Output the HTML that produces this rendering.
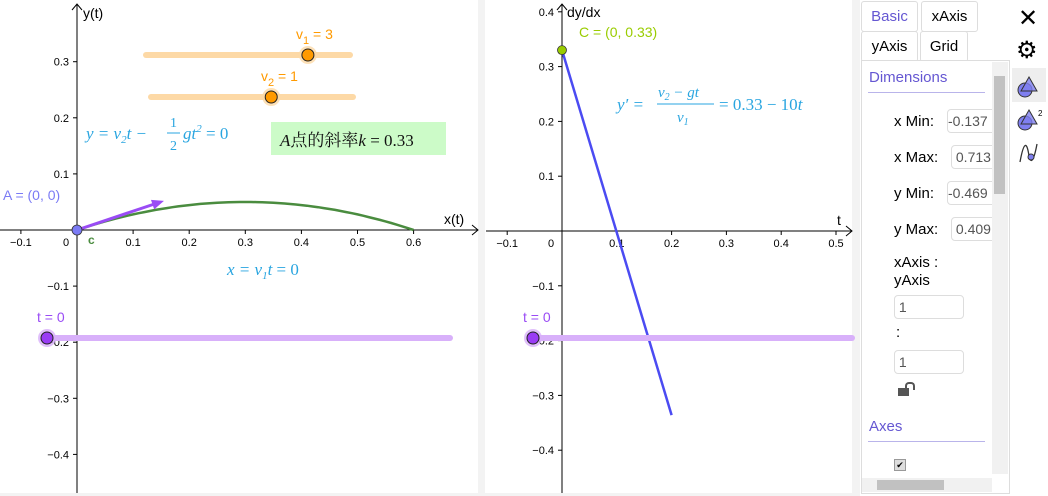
<!DOCTYPE html>
<html><head><meta charset="utf-8">
<style>
body{margin:0;width:1048px;height:496px;overflow:hidden;background:#fff;font-family:"Liberation Sans","Noto Sans CJK SC",sans-serif;}
svg{position:absolute;left:0;top:0}
.side{position:absolute;font-family:"Liberation Sans",sans-serif;}
</style></head><body>
<svg id="chart" width="1048" height="496">
<rect x="0" y="0" width="1048" height="496" fill="#fff"/>
<rect x="478" y="0" width="7" height="496" fill="#f3f3f3"/>
<rect x="852" y="0" width="8" height="496" fill="#f3f3f3"/>
<rect x="0" y="493" width="860" height="3" fill="#f3f3f3"/>
<g id="left"></g><g id="right"></g>
</svg>

<div class="side" style="left:860px;top:0;width:150px;height:496px;">
 <div style="position:absolute;left:1px;top:1px;width:55px;height:29px;border:1px solid #ddd;border-radius:3px;color:#6557d2;font-size:15px;line-height:29px;text-align:center">Basic</div>
 <div style="position:absolute;left:61px;top:1px;width:55px;height:29px;border:1px solid #ddd;border-radius:3px;font-size:15px;line-height:29px;text-align:center">xAxis</div>
 <div style="position:absolute;left:1px;top:31px;width:55px;height:29px;border:1px solid #ddd;border-radius:3px;font-size:15px;line-height:29px;text-align:center">yAxis</div>
 <div style="position:absolute;left:60px;top:31px;width:46px;height:29px;border:1px solid #ddd;border-radius:3px;font-size:15px;line-height:29px;text-align:center">Grid</div>
 <div style="position:absolute;left:1px;top:60px;width:147px;height:432px;border:1px solid #ddd;background:#fff"></div>
 <div style="position:absolute;left:9px;top:69px;color:#6557d2;font-size:15px">Dimensions</div>
 <div style="position:absolute;left:8px;top:92px;width:117px;height:1px;background:#b9b4ea"></div>
 <div style="position:absolute;left:34px;top:113px;font-size:15px">x Min:</div>
 <div style="position:absolute;left:87px;top:109px;width:50px;height:22px;border:1px solid #ddd;border-radius:4px;font-size:14px;color:#555;line-height:22px;overflow:hidden">-0.137</div>
 <div style="position:absolute;left:34px;top:149px;font-size:15px">x Max:</div>
 <div style="position:absolute;left:91px;top:145px;width:46px;height:22px;border:1px solid #ddd;border-radius:4px;font-size:14px;color:#555;line-height:22px;overflow:hidden">&nbsp;0.713</div>
 <div style="position:absolute;left:34px;top:185px;font-size:15px">y Min:</div>
 <div style="position:absolute;left:87px;top:181px;width:50px;height:22px;border:1px solid #ddd;border-radius:4px;font-size:14px;color:#555;line-height:22px;overflow:hidden">-0.469</div>
 <div style="position:absolute;left:34px;top:221px;font-size:15px">y Max:</div>
 <div style="position:absolute;left:91px;top:217px;width:46px;height:22px;border:1px solid #ddd;border-radius:4px;font-size:14px;color:#555;line-height:22px;overflow:hidden">&nbsp;0.409</div>
 <div style="position:absolute;left:34px;top:254px;font-size:15px;line-height:18px">xAxis :<br>yAxis</div>
 <div style="position:absolute;left:34px;top:295px;width:68px;height:22px;border:1px solid #ddd;border-radius:4px;font-size:14px;color:#555;line-height:22px">&nbsp;1</div>
 <div style="position:absolute;left:36px;top:324px;font-size:15px">:</div>
 <div style="position:absolute;left:34px;top:350px;width:68px;height:22px;border:1px solid #ddd;border-radius:4px;font-size:14px;color:#555;line-height:22px">&nbsp;1</div>
 <div style="position:absolute;left:38px;top:388px;width:11px;height:8px;background:#555"></div>
 <div style="position:absolute;left:45px;top:382px;width:6px;height:6px;border:2px solid #555;border-bottom:none;border-radius:4px 4px 0 0"></div>
 <div style="position:absolute;left:9px;top:418px;color:#6557d2;font-size:15px">Axes</div>
 <div style="position:absolute;left:8px;top:441px;width:117px;height:1px;background:#b9b4ea"></div>
 <div style="position:absolute;left:34px;top:459px;width:10px;height:10px;border:1px solid #999;background:#ddd;font-size:9px;line-height:10px;text-align:center">✔</div>
 <div style="position:absolute;left:132px;top:62px;width:16px;height:412px;background:#f1f1f1"><div style="position:absolute;left:2px;top:14px;width:11px;height:118px;background:#c1c1c1"></div></div>
 <div style="position:absolute;left:2px;top:478px;width:130px;height:14px;background:#f1f1f1"><div style="position:absolute;left:15px;top:2px;width:67px;height:10px;background:#c1c1c1"></div></div>
</div>
<div class="side" style="left:1018px;top:4px;font-size:24px">✕</div>
<div class="side" style="left:1016px;top:36px;font-size:24px">⚙</div>
<div class="side" style="left:1012px;top:68px;width:34px;height:34px;background:#eee"></div>
<svg width="1048" height="496" style="pointer-events:none">
 <circle cx="1025" cy="90" r="7" fill="#7f7ff0" stroke="#333"/><path d="M1029 77 L1037 91 L1021 91Z" fill="#7f7ff0" stroke="#333" fill-opacity="0.8"/>
 <circle cx="1025" cy="123" r="7" fill="#7f7ff0" stroke="#333"/><path d="M1029 110 L1037 124 L1021 124Z" fill="#7f7ff0" stroke="#333" fill-opacity="0.8"/>
 <text x="1038" y="116" font-size="8" font-family="Liberation Sans">2</text>
 <path d="M1020 162 C1024 140 1027 142 1029 156 C1031 165 1034 160 1037 144" fill="none" stroke="#333" stroke-width="1.3"/>
 <circle cx="1031" cy="157" r="3" fill="#7f7ff0" stroke="#333"/>
</svg>

<script>
// Left view data
const leftXTicks=[-0.1,0,0.1,0.2,0.3,0.4,0.5,0.6];
const leftYTicks=[0.3,0.2,0.1,-0.1,-0.2,-0.3,-0.4];
const pathCoefs=[0.3333,-0.5556]; // y = a x + b x^2
const pathRange=[0,0.6];
const vectorTip=[0.155,0.052];
const v1Value=[3], v2Value=[1], tValue=[0];
// Right view data
const rightXTicks=[-0.1,0,0.1,0.2,0.3,0.4,0.5];
const rightYTicks=[0.4,0.3,0.2,0.1,-0.1,-0.2,-0.3,-0.4];
const slopeLineT=[0,0.2];
const slopeLineY=[0.33,-0.336];
const pointC=[0,0.33];

const NS="http://www.w3.org/2000/svg";
function mk(parent,tag,attrs,txt){const e=document.createElementNS(NS,tag);for(const k in attrs)e.setAttribute(k,attrs[k]);if(txt!==undefined)e.textContent=txt;parent.appendChild(e);return e;}
const F='"Liberation Sans",sans-serif';
function axes(g,ox,oy,s,x0,x1,y0,y1,xt,yt,xl,yl){
  const xs=v=>ox+v*s, ys=v=>oy-v*s;
  let a=mk(g,'line',{x1:x0,y1:oy,x2:x1,y2:oy,stroke:'#000','stroke-width':1});
  
  mk(g,'path',{d:`M${x1-6} ${oy-5} L${x1} ${oy} L${x1-6} ${oy+5}`,fill:'none',stroke:'#000'});
  let b=mk(g,'line',{x1:ox,y1:y0,x2:ox,y2:y1,stroke:'#000','stroke-width':1});
  
  mk(g,'path',{d:`M${ox-5} ${y0+6} L${ox} ${y0} L${ox+5} ${y0+6}`,fill:'none',stroke:'#000'});
  xt.forEach(v=>{const x=xs(v);if(v!==0)mk(g,'line',{x1:x,y1:oy,x2:x,y2:oy+4,stroke:'#000'});
    const t=mk(g,'text',{x:v===0?x-11:x,y:oy+16,'font-size':11,'font-family':F,'text-anchor':'middle'},v===0?'0':(v<0?'\u2212'+(-v):String(v)));
    });
  yt.forEach(v=>{const y=ys(v);mk(g,'line',{x1:ox-4,y1:y,x2:ox,y2:y,stroke:'#000'});
    const t=mk(g,'text',{x:ox-8,y:y+4,'font-size':11,'font-family':F,'text-anchor':'end'},v<0?'\u2212'+(-v):String(v));
    });
  let tx=mk(g,'text',{x:xl[0],y:xl[1],'font-size':14,'font-family':F},xl[2]);
  
  let ty=mk(g,'text',{x:yl[0],y:yl[1],'font-size':14,'font-family':F},yl[2]);
  
  return [xs,ys];
}
function slider(g,x1,x2,y,kx,col,fill,name){
  const l=mk(g,'line',{x1,y1:y,x2,y2:y,stroke:col,'stroke-width':6,'stroke-linecap':'round'});
  
  mk(g,'circle',{cx:kx,cy:y,r:9,fill:col,opacity:0.8});
  const k=mk(g,'circle',{cx:kx,cy:y,r:6,fill:fill,stroke:'#222','stroke-width':1});
  
}
// LEFT
const L=document.getElementById('left');
const [lx,ly]=axes(L,77,230,561,0,478,4,493,leftXTicks,leftYTicks,[444,224,'x(t)'],[83,18,'y(t)']);
let d='';for(let i=0;i<=60;i++){const x=pathRange[0]+(pathRange[1]-pathRange[0])*i/60;const y=pathCoefs[0]*x+pathCoefs[1]*x*x;d+=(i?'L':'M')+lx(x).toFixed(1)+' '+ly(y).toFixed(1);}
let p=mk(L,'path',{d,fill:'none',stroke:'#4a8c3f','stroke-width':2.5});

const vx=lx(vectorTip[0]),vy=ly(vectorTip[1]);const ang=Math.atan2(vy-ly(0),vx-lx(0));
let vl=mk(L,'line',{x1:lx(0),y1:ly(0),x2:vx-8*Math.cos(ang),y2:vy-8*Math.sin(ang),stroke:'#9a4cf5','stroke-width':3});

mk(L,'path',{d:`M${vx} ${vy} L${vx-12*Math.cos(ang)+5*Math.sin(ang)} ${vy-12*Math.sin(ang)-5*Math.cos(ang)} L${vx-12*Math.cos(ang)-5*Math.sin(ang)} ${vy-12*Math.sin(ang)+5*Math.cos(ang)}Z`,fill:'#9a4cf5'});
let pa=mk(L,'circle',{cx:lx(0),cy:ly(0),r:5,fill:'#7b7bf5',stroke:'#333','stroke-width':0.8});

let la=mk(L,'text',{x:3,y:200,'font-size':14,'font-family':F,fill:'#7b7bf5'},'A = (0, 0)');

mk(L,'text',{x:88,y:244,'font-size':12,'font-family':F,fill:'#4a8c3f','font-weight':'bold'},'c');
slider(L,146,350,55,146+204*(v1Value[0]/3.78),'#fdd9a6','#ff9a00','v1-slider');
let t1=mk(L,'text',{x:296,y:39,'font-size':14,'font-family':F,fill:'#ff9a00'});t1.innerHTML='v<tspan font-size="11" dy="5">1</tspan><tspan dy="-5"> = 3</tspan>';

slider(L,151,353,97,151+202*(v2Value[0]/1.68),'#fdd9a6','#ff9a00','v2-slider');
let t2=mk(L,'text',{x:261,y:81,'font-size':14,'font-family':F,fill:'#ff9a00'});t2.innerHTML='v<tspan font-size="11" dy="5">2</tspan><tspan dy="-5"> = 1</tspan>';

slider(L,47,450,338,47+403*tValue[0],'#d8b0fa','#9a3cf5','t-slider-left');
let tt=mk(L,'text',{x:37,y:322,'font-size':14,'font-family':F,fill:'#9a4cf5'},'t = 0');

const S='"Liberation Serif",serif';
let f1=mk(L,'text',{x:86,y:139,'font-size':17,'font-family':S,'font-style':'italic',fill:'#29a5e0'});
f1.innerHTML='y = v<tspan font-size="11" dy="4">2</tspan><tspan dy="-4">t − </tspan>';

mk(L,'text',{x:170,y:127,'font-size':14,'font-family':S,fill:'#29a5e0'},'1');
mk(L,'line',{x1:167,y1:133,x2:180,y2:133,stroke:'#29a5e0'});
mk(L,'text',{x:170,y:150,'font-size':14,'font-family':S,fill:'#29a5e0'},'2');
let f1b=mk(L,'text',{x:183,y:139,'font-size':17,'font-family':S,'font-style':'italic',fill:'#29a5e0'});
f1b.innerHTML='gt<tspan font-size="11" dy="-7">2</tspan><tspan dy="7" font-style="normal"> = 0</tspan>';
let f2=mk(L,'text',{x:227,y:275,'font-size':17,'font-family':S,'font-style':'italic',fill:'#29a5e0'});
f2.innerHTML='x = v<tspan font-size="11" dy="4">1</tspan><tspan dy="-4">t </tspan><tspan font-style="normal">= 0</tspan>';

let bx=mk(L,'rect',{x:271,y:122,width:175,height:33,fill:'#ccfbc8'});

mk(L,'text',{x:280,y:146,'font-size':17,'font-family':'"Liberation Serif","Noto Serif CJK SC",serif',fill:'#111'},'').innerHTML='<tspan font-style="italic">A</tspan>点的斜率<tspan font-style="italic">k</tspan> = 0.33';

// RIGHT
const R=document.getElementById('right');
const [rx,ry]=axes(R,562,231,548,486,852,4,493,rightXTicks,rightYTicks,[837,225,'t'],[567,17,'dy/dx']);
let sl=mk(R,'line',{x1:rx(slopeLineT[0]),y1:ry(slopeLineY[0]),x2:rx(slopeLineT[1]),y2:ry(slopeLineY[1]),stroke:'#4b4bf2','stroke-width':2.5});

let pc=mk(R,'circle',{cx:rx(pointC[0]),cy:ry(pointC[1]),r:4.5,fill:'#99cc00',stroke:'#333','stroke-width':0.8});

let lc=mk(R,'text',{x:579,y:37,'font-size':14,'font-family':F,fill:'#99cc00'},'C = (0, 0.33)');

slider(R,533,852,338,533,'#d8b0fa','#9a3cf5','t-slider-right');
let tt2=mk(R,'text',{x:523,y:322,'font-size':14,'font-family':F,fill:'#9a4cf5'},'t = 0');

let f3=mk(R,'text',{x:617,y:110,'font-size':17,'font-family':S,'font-style':'italic',fill:'#29a5e0'},"y′ =");

let f3n=mk(R,'text',{x:658,y:97,'font-size':15,'font-family':S,'font-style':'italic',fill:'#29a5e0'});f3n.innerHTML='v<tspan font-size="10" dy="3">2</tspan><tspan dy="-3"> − gt</tspan>';
mk(R,'line',{x1:657,y1:104,x2:714,y2:104,stroke:'#29a5e0'});
let f3d=mk(R,'text',{x:677,y:122,'font-size':15,'font-family':S,'font-style':'italic',fill:'#29a5e0'});f3d.innerHTML='v<tspan font-size="10" dy="3">1</tspan>';
let f3r=mk(R,'text',{x:719,y:110,'font-size':17,'font-family':S,fill:'#29a5e0'});f3r.innerHTML='= 0.33 − 10<tspan font-style="italic">t</tspan>';
</script>
</body></html>
